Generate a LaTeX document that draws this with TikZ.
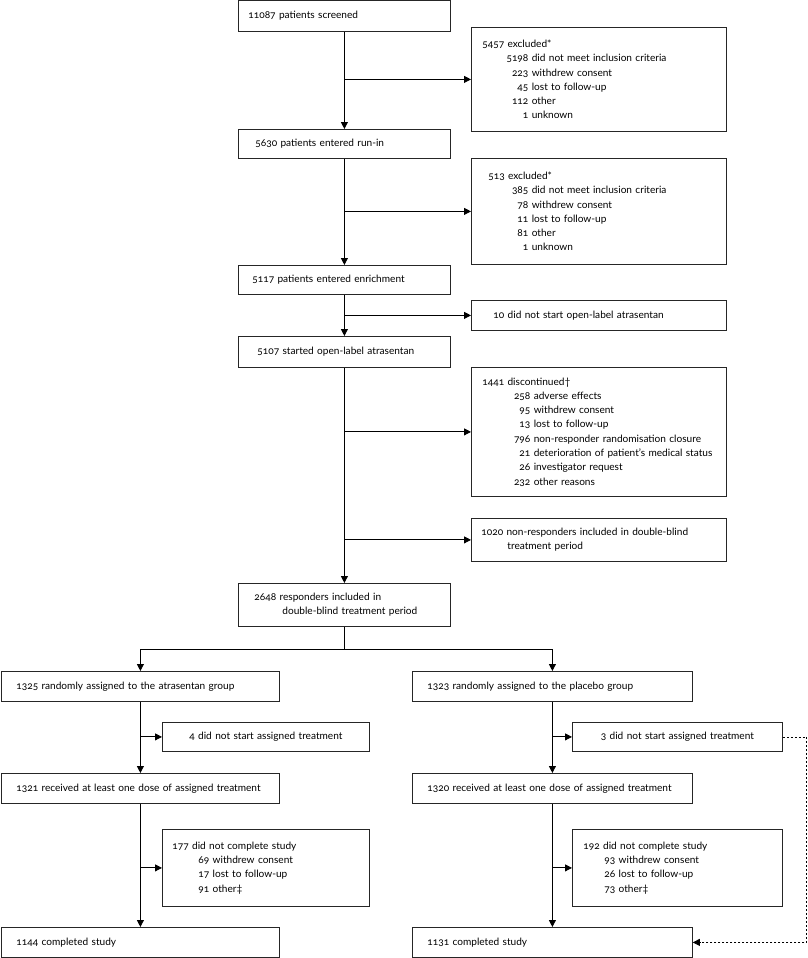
\documentclass[tikz,border=0pt]{standalone}
\usepackage{fontspec}
\setmainfont{Lato}[Numbers=OldStyle]
\usetikzlibrary{arrows.meta}
\newcommand\itm[3]{\makebox[#1][r]{#2}\ #3}
\begin{document}
\begin{tikzpicture}[x=1pt,y=-1pt,
  box/.style={draw=black!85, line width=0.8pt, anchor=north west, align=left, inner ysep=0pt, font=\fontsize{10.1}{14.3}\selectfont},
  cbox/.style={draw=black!85, line width=0.8pt, anchor=north west, align=center, inner ysep=0pt, font=\fontsize{10.1}{14.3}\selectfont},
  arr/.style={line width=0.9pt, -{Triangle[length=7pt,width=7pt]}},
  ln/.style={line width=0.9pt},
  dasharr/.style={line width=0.8pt, dash pattern=on 2.5pt off 1.5pt, -{Triangle[length=7pt,width=7pt]}}]
\useasboundingbox (0,0) rectangle (807,958);
% main column
\node[box, minimum height=31pt, inner xsep=10pt, text width=192pt] (b1) at (238,0) {11087 patients screened};
\node[box, minimum height=104pt, inner xsep=11pt, text width=233pt] (ex1) at (471,27) {5457 excluded*\\
\itm{46pt}{5198}{did not meet inclusion criteria}\\
\itm{46pt}{223}{withdrew consent}\\
\itm{46pt}{45}{lost to follow-up}\\
\itm{46pt}{112}{other}\\
\itm{46pt}{1}{unknown}};
\node[box, minimum height=29pt, inner xsep=17pt, text width=178pt] (b2) at (238,129) {5630 patients entered run-in};
\node[box, minimum height=106pt, inner xsep=17pt, text width=221pt] (ex2) at (471,158) {513 excluded*\\
\itm{40pt}{385}{did not meet inclusion criteria}\\
\itm{40pt}{78}{withdrew consent}\\
\itm{40pt}{11}{lost to follow-up}\\
\itm{40pt}{81}{other}\\
\itm{40pt}{1}{unknown}};
\node[box, minimum height=29pt, inner xsep=14pt, text width=184pt] (b3) at (238,265) {5117 patients entered enrichment};
\node[box, minimum height=30pt, inner xsep=22pt, text width=211pt] (ns) at (471,300) {10 did not start open-label atrasentan};
\node[box, minimum height=31pt, inner xsep=19pt, text width=174pt] (b4) at (238,336) {5107 started open-label atrasentan};
\node[box, minimum height=129pt, inner xsep=11pt, text width=233pt] (dis) at (471,367) {1441 discontinued†\\
\itm{48pt}{258}{adverse effects}\\
\itm{48pt}{95}{withdrew consent}\\
\itm{48pt}{13}{lost to follow-up}\\
\itm{48pt}{796}{non-responder randomisation closure}\\
\itm{48pt}{21}{deterioration of patient’s medical status}\\
\itm{48pt}{26}{investigator request}\\
\itm{48pt}{232}{other reasons}};
\node[box, minimum height=43pt, inner xsep=10pt, text width=235pt] (nr) at (471,518) {1020 non-responders included in double-blind\\
\hspace*{26pt}treatment period};
\node[box, minimum height=43pt, inner xsep=16pt, text width=180pt] (resp) at (238,583) {2648 responders included in\\
\hspace*{28pt}double-blind treatment period};
% left arm
\node[box, minimum height=30pt, inner xsep=15pt, text width=248pt] (ag) at (1,671) {1325 randomly assigned to the atrasentan group};
\node[cbox, minimum height=29pt, minimum width=207pt, text width=195pt] (ans) at (162,722) {4 did not start assigned treatment};
\node[box, minimum height=30pt, inner xsep=15pt, text width=248pt] (ar) at (1,773) {\makebox[\linewidth][l]{1321 received at least one dose of assigned treatment}};
\node[box, minimum height=77pt, inner xsep=10pt, text width=187pt] (adc) at (162,829) {177 did not complete study\\
\hspace*{26pt}69 withdrew consent\\
\hspace*{26pt}17 lost to follow-up\\
\hspace*{26pt}91 other‡};
\node[box, minimum height=30pt, inner xsep=15pt, text width=248pt] (ac) at (1,927) {1144 completed study};
% right arm
\node[box, minimum height=30pt, inner xsep=15pt, text width=250pt] (pg) at (412,671) {1323 randomly assigned to the placebo group};
\node[cbox, minimum height=29pt, minimum width=210pt, text width=198pt] (pns) at (572,722) {3 did not start assigned treatment};
\node[box, minimum height=30pt, inner xsep=15pt, text width=250pt] (pr) at (412,773) {\makebox[\linewidth][l]{1320 received at least one dose of assigned treatment}};
\node[box, minimum height=77pt, inner xsep=11pt, text width=188pt] (pdc) at (572,829) {192 did not complete study\\
\hspace*{21pt}93 withdrew consent\\
\hspace*{21pt}26 lost to follow-up\\
\hspace*{21pt}73 other‡};
\node[box, minimum height=30pt, inner xsep=15pt, text width=250pt] (pc) at (412,927) {1131 completed study};
% connectors main
\draw[arr] (b1) -- (b2);
\draw[arr] (b1.south |- ex1.west) -- (ex1.west);
\draw[arr] (b2) -- (b3);
\draw[arr] (b2.south |- ex2.west) -- (ex2.west);
\draw[arr] (b3) -- (b4);
\draw[arr] (b3.south |- ns.west) -- (ns.west);
\draw[arr] (b4) -- (resp);
\draw[arr] (b4.south |- dis.west) -- (dis.west);
\draw[arr] (b4.south |- nr.west) -- (nr.west);
\draw[ln] (resp.south) -- ++(0,23) coordinate (br);
\draw[arr] (br) -| (ag.north);
\draw[arr] (br) -| (pg.north);
% left arm connectors
\draw[arr] (ag) -- (ar);
\draw[arr] (ag.south |- ans.west) -- (ans.west);
\draw[arr] (ar) -- (ac);
\draw[arr] (ar.south |- adc.west) -- (adc.west);
% right arm connectors
\draw[arr] (pg) -- (pr);
\draw[arr] (pg.south |- pns.west) -- (pns.west);
\draw[arr] (pr) -- (pc);
\draw[arr] (pr.south |- pdc.west) -- (pdc.west);
\draw[dasharr] (pns.east) -- ++(24,0) coordinate (dc) |- (pc.east);
\end{tikzpicture}
\end{document}
